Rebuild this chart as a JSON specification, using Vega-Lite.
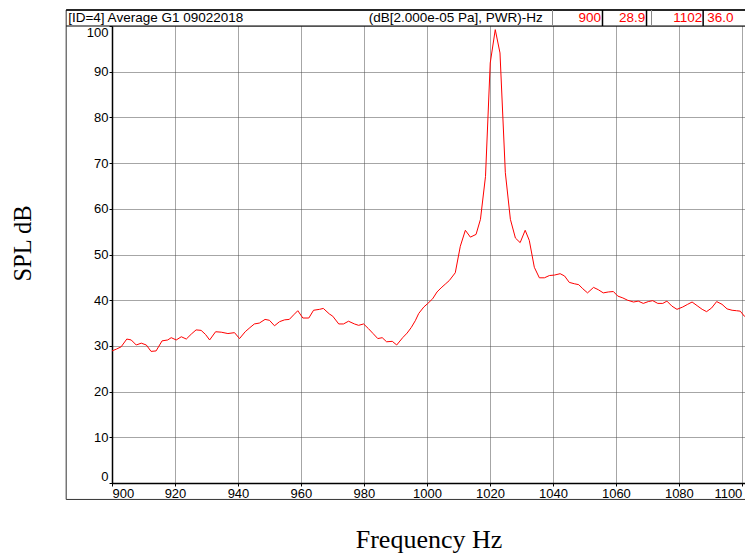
{
  "$schema": "https://vega.github.io/schema/vega-lite/v6.json",
  "width": 633,
  "height": 457,
  "autosize": {"type": "none"},
  "padding": {"left": 112, "top": 26, "right": 0, "bottom": 73},
  "background": "white",
  "config": {"view": {"stroke": null}, "font": "Liberation Sans"},
  "data": {"values": [
    {"f": 900.0, "spl": 28.9}, {"f": 901.4, "spl": 29.3}, {"f": 902.9, "spl": 29.8}, {"f": 904.7, "spl": 31.5},
    {"f": 906.1, "spl": 31.3}, {"f": 907.7, "spl": 30.2}, {"f": 909.3, "spl": 30.6}, {"f": 910.9, "spl": 30.2},
    {"f": 912.4, "spl": 28.8}, {"f": 914.0, "spl": 28.9}, {"f": 915.9, "spl": 31.1}, {"f": 917.7, "spl": 31.3},
    {"f": 918.8, "spl": 31.8}, {"f": 920.4, "spl": 31.3}, {"f": 922.0, "spl": 32.0}, {"f": 923.6, "spl": 31.5},
    {"f": 925.2, "spl": 32.6}, {"f": 926.7, "spl": 33.5}, {"f": 928.3, "spl": 33.4}, {"f": 929.7, "spl": 32.5},
    {"f": 931.0, "spl": 31.3}, {"f": 932.9, "spl": 33.1}, {"f": 934.7, "spl": 33.0}, {"f": 936.8, "spl": 32.7},
    {"f": 938.9, "spl": 32.9}, {"f": 940.5, "spl": 31.6}, {"f": 942.3, "spl": 33.1}, {"f": 943.8, "spl": 34.0},
    {"f": 945.2, "spl": 34.8}, {"f": 946.8, "spl": 35.0}, {"f": 948.6, "spl": 35.8}, {"f": 950.0, "spl": 35.6},
    {"f": 951.6, "spl": 34.4}, {"f": 953.2, "spl": 35.3}, {"f": 954.8, "spl": 35.7}, {"f": 956.3, "spl": 35.8},
    {"f": 957.7, "spl": 36.8}, {"f": 959.0, "spl": 37.7}, {"f": 960.6, "spl": 36.1}, {"f": 962.5, "spl": 36.1},
    {"f": 964.0, "spl": 37.8}, {"f": 965.9, "spl": 38.0}, {"f": 967.1, "spl": 38.2}, {"f": 969.0, "spl": 37.0},
    {"f": 970.1, "spl": 36.5}, {"f": 972.0, "spl": 34.8}, {"f": 973.5, "spl": 34.8}, {"f": 975.1, "spl": 35.4},
    {"f": 977.0, "spl": 34.8}, {"f": 978.3, "spl": 34.5}, {"f": 979.9, "spl": 34.8}, {"f": 981.4, "spl": 33.8},
    {"f": 982.9, "spl": 32.7}, {"f": 984.4, "spl": 31.6}, {"f": 985.8, "spl": 31.8}, {"f": 987.2, "spl": 30.9},
    {"f": 989.0, "spl": 31.0}, {"f": 990.4, "spl": 30.2}, {"f": 992.3, "spl": 31.8}, {"f": 993.7, "spl": 32.8},
    {"f": 995.0, "spl": 34.0}, {"f": 996.3, "spl": 35.5}, {"f": 997.4, "spl": 37.1}, {"f": 999.0, "spl": 38.5},
    {"f": 1000.3, "spl": 39.3}, {"f": 1001.8, "spl": 40.3}, {"f": 1003.2, "spl": 41.8}, {"f": 1004.5, "spl": 42.7},
    {"f": 1005.8, "spl": 43.5}, {"f": 1007.1, "spl": 44.3}, {"f": 1009.0, "spl": 46.0}, {"f": 1010.6, "spl": 51.8},
    {"f": 1012.2, "spl": 55.3}, {"f": 1013.8, "spl": 53.8}, {"f": 1015.6, "spl": 54.4}, {"f": 1017.0, "spl": 57.7},
    {"f": 1018.6, "spl": 67.1}, {"f": 1020.1, "spl": 91.9}, {"f": 1021.7, "spl": 99.2}, {"f": 1023.2, "spl": 94.1},
    {"f": 1024.9, "spl": 67.9}, {"f": 1026.5, "spl": 57.7}, {"f": 1028.1, "spl": 53.6}, {"f": 1029.6, "spl": 52.6},
    {"f": 1031.2, "spl": 55.3}, {"f": 1032.5, "spl": 53.1}, {"f": 1034.1, "spl": 47.2}, {"f": 1035.7, "spl": 44.9},
    {"f": 1037.3, "spl": 44.9}, {"f": 1038.9, "spl": 45.4}, {"f": 1040.5, "spl": 45.5}, {"f": 1042.3, "spl": 45.8},
    {"f": 1043.7, "spl": 45.3}, {"f": 1045.2, "spl": 43.9}, {"f": 1046.8, "spl": 43.6}, {"f": 1048.2, "spl": 43.4},
    {"f": 1049.5, "spl": 42.5}, {"f": 1051.0, "spl": 41.6}, {"f": 1052.9, "spl": 42.8}, {"f": 1054.4, "spl": 42.3},
    {"f": 1056.0, "spl": 41.6}, {"f": 1057.6, "spl": 41.8}, {"f": 1059.2, "spl": 41.9}, {"f": 1060.6, "spl": 40.9},
    {"f": 1062.2, "spl": 40.5}, {"f": 1063.7, "spl": 40.0}, {"f": 1065.6, "spl": 39.6}, {"f": 1067.1, "spl": 39.8},
    {"f": 1068.7, "spl": 39.3}, {"f": 1070.3, "spl": 39.7}, {"f": 1071.7, "spl": 39.9}, {"f": 1073.3, "spl": 39.3},
    {"f": 1074.9, "spl": 39.3}, {"f": 1076.2, "spl": 39.8}, {"f": 1077.8, "spl": 38.7}, {"f": 1079.4, "spl": 38.0},
    {"f": 1081.2, "spl": 38.5}, {"f": 1082.8, "spl": 39.1}, {"f": 1084.2, "spl": 39.6}, {"f": 1085.8, "spl": 38.8},
    {"f": 1087.4, "spl": 38.0}, {"f": 1088.8, "spl": 37.5}, {"f": 1090.4, "spl": 38.3}, {"f": 1092.0, "spl": 39.7},
    {"f": 1093.7, "spl": 39.1}, {"f": 1095.3, "spl": 38.1}, {"f": 1096.9, "spl": 37.8}, {"f": 1098.3, "spl": 37.7},
    {"f": 1099.5, "spl": 37.6}, {"f": 1100.8, "spl": 36.5}, {"f": 1102.0, "spl": 36.0}
  ]},
  "resolve": {"axis": {"x": "independent", "y": "independent"}},
  "layer": [
    {
      "data": {"values": [{}]},
      "mark": {"type": "rect", "fill": "transparent", "stroke": "#333333", "strokeWidth": 1},
      "encoding": {
        "x": {"datum": 885.45, "type": "quantitative", "axis": null},
        "x2": {"datum": 1110},
        "y": {"datum": -3.6, "type": "quantitative", "axis": null},
        "y2": {"datum": 103.5}
      }
    },
    {
      "data": {"values": [{}]},
      "mark": {"type": "rule", "color": "black", "strokeWidth": 1.5},
      "encoding": {
        "x": {"datum": 885.45, "type": "quantitative", "axis": null},
        "x2": {"datum": 1110},
        "y": {"datum": 103.5, "type": "quantitative", "axis": null}
      }
    },
    {
      "data": {"values": [{}]},
      "mark": {"type": "rule", "color": "black", "strokeWidth": 1},
      "encoding": {
        "x": {"datum": 885.45, "type": "quantitative", "axis": null},
        "x2": {"datum": 1110},
        "y": {"datum": 100, "type": "quantitative", "axis": null}
      }
    },
    {
      "data": {"values": [{}]},
      "mark": {"type": "rule", "color": "#888888", "strokeWidth": 1},
      "encoding": {
        "x": {"datum": 1039.87, "type": "quantitative", "axis": null},
        "y": {"datum": 100, "type": "quantitative", "axis": null},
        "y2": {"datum": 103.5}
      }
    },
    {
      "data": {"values": [{}]},
      "mark": {"type": "rule", "color": "#888888", "strokeWidth": 1},
      "encoding": {
        "x": {"datum": 1071.32, "type": "quantitative", "axis": null},
        "y": {"datum": 100, "type": "quantitative", "axis": null},
        "y2": {"datum": 103.5}
      }
    },
    {
      "data": {"values": [{}]},
      "mark": {"type": "rule", "color": "black", "strokeWidth": 1.5},
      "encoding": {
        "x": {"datum": 1055.75, "type": "quantitative", "axis": null},
        "y": {"datum": 100, "type": "quantitative", "axis": null},
        "y2": {"datum": 103.5}
      }
    },
    {
      "data": {"values": [{}]},
      "mark": {"type": "rule", "color": "black", "strokeWidth": 1.5},
      "encoding": {
        "x": {"datum": 1069.73, "type": "quantitative", "axis": null},
        "y": {"datum": 100, "type": "quantitative", "axis": null},
        "y2": {"datum": 103.5}
      }
    },
    {
      "data": {"values": [{}]},
      "mark": {"type": "rule", "color": "black", "strokeWidth": 1.5},
      "encoding": {
        "x": {"datum": 1087.71, "type": "quantitative", "axis": null},
        "y": {"datum": 100, "type": "quantitative", "axis": null},
        "y2": {"datum": 103.5}
      }
    },
    {
      "data": {"values": [{}]},
      "mark": {"type": "text", "text": "[ID=4] Average G1 09022018", "align": "left", "baseline": "middle", "fontSize": 13.5, "font": "Liberation Sans", "color": "black"},
      "encoding": {
        "x": {"datum": 886.1, "type": "quantitative", "axis": null},
        "y": {"datum": 101.8, "type": "quantitative", "axis": null}
      }
    },
    {
      "data": {"values": [{}]},
      "mark": {"type": "text", "text": "(dB[2.000e-05 Pa], PWR)-Hz", "align": "right", "baseline": "middle", "fontSize": 13.5, "font": "Liberation Sans", "color": "black"},
      "encoding": {
        "x": {"datum": 1036.8, "type": "quantitative", "axis": null},
        "y": {"datum": 101.8, "type": "quantitative", "axis": null}
      }
    },
    {
      "data": {"values": [{}]},
      "mark": {"type": "text", "text": "900", "align": "right", "baseline": "middle", "fontSize": 13.5, "font": "Liberation Sans", "color": "#ff0000"},
      "encoding": {
        "x": {"datum": 1055.3, "type": "quantitative", "axis": null},
        "y": {"datum": 101.8, "type": "quantitative", "axis": null}
      }
    },
    {
      "data": {"values": [{}]},
      "mark": {"type": "text", "text": "28.9", "align": "right", "baseline": "middle", "fontSize": 13.5, "font": "Liberation Sans", "color": "#ff0000"},
      "encoding": {
        "x": {"datum": 1069.3, "type": "quantitative", "axis": null},
        "y": {"datum": 101.8, "type": "quantitative", "axis": null}
      }
    },
    {
      "data": {"values": [{}]},
      "mark": {"type": "text", "text": "1102", "align": "right", "baseline": "middle", "fontSize": 13.5, "font": "Liberation Sans", "color": "#ff0000"},
      "encoding": {
        "x": {"datum": 1087.4, "type": "quantitative", "axis": null},
        "y": {"datum": 101.8, "type": "quantitative", "axis": null}
      }
    },
    {
      "data": {"values": [{}]},
      "mark": {"type": "text", "text": "36.0", "align": "left", "baseline": "middle", "fontSize": 13.5, "font": "Liberation Sans", "color": "#ff0000"},
      "encoding": {
        "x": {"datum": 1089.0, "type": "quantitative", "axis": null},
        "y": {"datum": 101.8, "type": "quantitative", "axis": null}
      }
    },
    {
      "mark": {"type": "line", "color": "#ff0000", "strokeWidth": 1},
      "encoding": {
        "x": {
          "field": "f", "type": "quantitative",
          "scale": {"domain": [900, 1101], "nice": false, "zero": false},
          "axis": {
            "values": [900, 920, 940, 960, 980, 1000, 1020, 1040, 1060, 1080, 1100],
            "format": "d",
            "title": "Frequency Hz",
            "titleFont": "Liberation Serif", "titleFontSize": 26, "titleFontWeight": "normal", "titleColor": "black",
            "titleY": 64, "titleBaseline": "alphabetic",
            "labelFont": "Liberation Sans", "labelFontSize": 13, "labelColor": "black",
            "labelFlush": 6, "labelPadding": 1, "labelOverlap": false,
            "tickSize": 3, "tickColor": "black", "domainColor": "black", "domainWidth": 1.5,
            "grid": true, "gridColor": "#4d4d4d", "gridDash": [1, 1], "gridWidth": 1
          }
        },
        "y": {
          "field": "spl", "type": "quantitative",
          "scale": {"domain": [0, 100], "nice": false},
          "axis": {
            "values": [0, 10, 20, 30, 40, 50, 60, 70, 80, 90, 100],
            "format": "d",
            "title": "SPL dB",
            "titleFont": "Liberation Serif", "titleFontSize": 24.5, "titleFontWeight": "normal", "titleColor": "black",
            "titleAngle": -90, "titleX": -82, "titleY": 217, "titleAlign": "center", "titleBaseline": "alphabetic",
            "labelFont": "Liberation Sans", "labelFontSize": 13, "labelColor": "black",
            "labelFlush": true, "labelPadding": 1, "labelOverlap": false,
            "tickSize": 3, "tickColor": "black", "domainColor": "black", "domainWidth": 1.5,
            "grid": true, "gridColor": "#4d4d4d", "gridDash": [1, 1], "gridWidth": 1
          }
        }
      }
    }
  ]
}
